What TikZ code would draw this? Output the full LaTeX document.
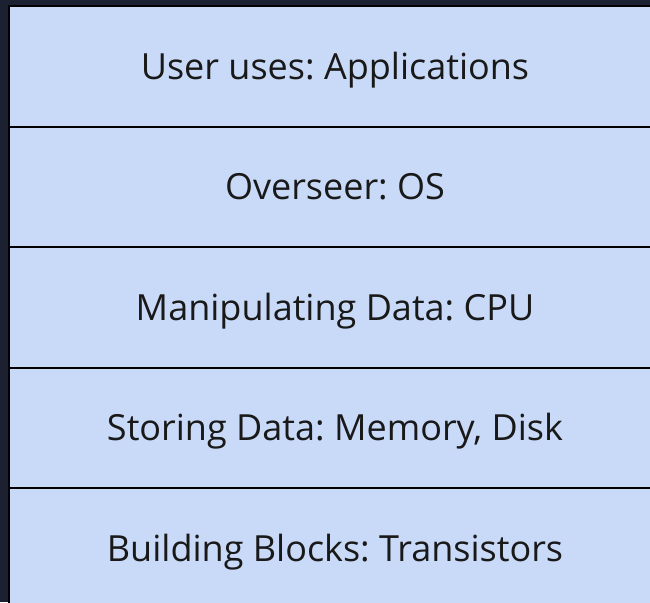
\documentclass[tikz,border=0pt]{standalone}
\usepackage{fontspec}
\setmainfont{Open Sans}
\frenchspacing
\definecolor{bgdark}{HTML}{1B2130}
\definecolor{layerfill}{HTML}{C9DAF8}
\begin{document}
\begin{tikzpicture}[x=1pt,y=-1pt,
  layer/.style={draw=black,line width=2pt,fill=layerfill,minimum width=652pt,minimum height=120.5pt,anchor=north west,inner sep=0pt,text height=25.7pt,text depth=0pt,font=\fontsize{36}{42}\selectfont,text=black!90}]
\fill[bgdark] (0,0) rectangle (650,602);
\useasboundingbox (0,0) rectangle (650,602);
\begin{scope}
\clip (0,0) rectangle (650,602);
\node[layer] (l1) at (8,5) {User uses: Applications};
\node[layer] (l2) at (8,125.5) {Overseer: OS};
\node[layer] (l3) at (8,246) {Manipulating Data: CPU};
\node[layer] (l4) at (8,366.5) {Storing Data: Memory, Disk};
\node[layer] (l5) at (8,487) {Building Blocks: Transistors};
\end{scope}
\end{tikzpicture}
\end{document}
